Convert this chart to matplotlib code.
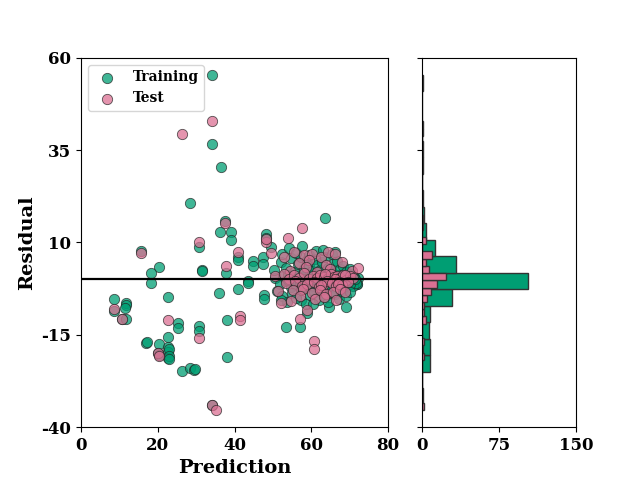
import numpy as np
import matplotlib
matplotlib.use("Agg")
import matplotlib.pyplot as plt

#######################################
# Data
#######################################
# training points away from the main cluster
train_pred_out = [34.1, 34.1, 36.4, 28.5, 37.4, 63.7, 36.3, 39.2, 48.1, 48.1,
                  39.2, 49.4, 30.8, 15.6,
                  41.0, 41.0, 44.7, 44.7, 47.4, 47.4, 20.2, 31.4, 31.4,
                  18.2, 37.7, 18.2, 43.4, 43.4, 40.8,
                  36.0, 22.7, 8.6, 11.7, 11.7, 57.4, 47.7, 47.7,
                  11.5, 8.6, 10.6, 11.6, 38.1, 59.0, 64.5, 69.0,
                  25.3, 25.3, 30.8, 30.8, 53.5, 57.1, 22.6,
                  17.0, 17.1, 20.2, 22.7, 22.7, 22.9, 20.0, 20.3,
                  22.7, 38.1, 26.2, 28.5, 29.5, 29.7, 22.8, 23.0,
                  34.1]
train_res_out = [55.4, 36.6, 30.5, 20.7, 15.8, 16.6, 12.8, 12.9, 12.3, 11.3,
                 10.6, 8.7, 8.7, 7.8,
                 6.2, 5.2, 5.1, 3.5, 6.0, 4.1, 3.4, 2.5, 2.4,
                 1.6, 1.6, -1.1, -0.3, -1.0, -2.6,
                 -3.7, -4.9, -5.4, -6.5, -7.0, -5.6, -4.2, -5.3,
                 -7.8, -8.6, -10.8, -10.8, -11.1, -9.2, -7.6, -7.4,
                 -11.7, -13.3, -12.5, -13.9, -12.9, -12.9, -15.7,
                 -17.1, -16.9, -17.6, -18.2, -19.6, -18.8, -20.0, -20.4,
                 -21.2, -20.9, -24.8, -24.1, -24.5, -24.3, -20.8, -21.6,
                 -34.0]

# training points in the dense cluster
train_pred_in = [50.5, 51.8, 52.6, 53.3, 54.0, 54.7, 55.2, 55.9, 56.4, 57.0,
                 57.5, 58.1, 58.6, 59.0, 59.4, 59.9, 60.3, 60.7, 61.0, 61.4,
                 61.8, 62.1, 62.5, 62.8, 63.1, 63.4, 63.7, 64.0, 64.3, 64.6,
                 64.9, 65.2, 65.5, 65.8, 66.1, 66.4, 66.7, 67.0, 67.3, 67.6,
                 67.9, 68.2, 68.5, 68.8, 69.1, 69.4, 69.7, 70.0, 70.3, 70.6,
                 71.0, 71.4, 71.8, 72.2, 58.3, 60.1, 61.6, 62.9, 63.9, 64.8,
                 65.7, 66.6, 67.4, 68.1, 68.9, 69.6, 70.4, 71.2, 72.0, 59.6,
                 62.3, 63.5, 65.0, 66.0, 67.2, 68.4, 69.2, 70.8, 53.9, 56.8,
                 61.2, 62.6, 64.2, 65.4, 66.9, 68.6, 69.9, 71.6, 57.8, 60.5,
                 63.0, 64.5, 66.3, 67.8, 69.0, 70.2, 71.5,
                 50.2, 52.0, 53.5, 54.8, 55.6, 56.5, 57.2, 58.0, 58.8, 59.5,
                 60.2, 60.9, 61.5, 62.2, 62.9, 63.6, 64.3, 65.1, 65.9, 66.7,
                 67.5, 68.3, 69.1, 70.0,
                 52.5, 54.3, 56.0, 57.7, 59.3, 61.2, 65.5, 66.3, 63.0,
                 51.0, 52.4, 53.8, 55.0, 56.1, 57.4, 58.5, 59.7, 60.8, 61.9,
                 62.7, 63.5, 64.4, 65.3, 66.2, 67.1, 68.0, 69.0, 70.1, 52.2,
                 60.4]
train_res_in = [0.4, -1.2, 0.9, -0.5, 1.3, -2.0, 0.2, -1.6, 1.0, -0.8,
                0.6, -2.3, 1.5, -0.3, -1.1, 0.8, -1.9, 0.1, 1.2, -0.6,
                -2.4, 0.5, -1.4, 1.6, -0.2, 0.9, -1.7, 0.3, -0.9, 1.1,
                -2.1, 0.7, -0.4, 1.4, -1.3, 0.0, -2.5, 0.6, -0.7, 1.2,
                -1.5, 0.2, -0.1, 1.0, -1.8, 0.4, -0.6, 1.5, -1.0, 0.1,
                0.8, -0.4, -1.3, 0.3, -2.2, 1.3, -0.9, 0.5, -1.6, 0.9,
                -0.2, 1.1, -2.0, 0.7, -1.1, 0.2, -0.5, 0.6, -1.2, 1.4,
                -0.8, -2.6, 0.4, -1.4, 1.0, -0.3, 0.8, -1.7, -0.1, 0.3,
                1.6, -1.0, -0.6, 0.5, -2.3, 1.2, -0.4, -0.9, -1.5, 0.0,
                0.7, -1.9, 0.2, -0.7, 1.3, -1.2, 0.1,
                2.5, 4.6, 3.1, 5.8, 2.0, 4.1, 6.0, 2.8, 5.2, 3.5,
                2.2, 5.5, 3.9, 2.6, 4.8, 6.1, 3.0, 2.3, 4.4, 5.0,
                2.7, 3.6, 2.1, 2.9,
                6.8, 8.5, 7.2, 9.0, 6.6, 7.8, 6.9, 7.4, 8.0,
                -3.2, -4.5, -6.0, -3.8, -5.1, -2.9, -6.6, -4.2, -3.4, -5.6,
                -3.0, -4.8, -6.2, -3.6, -4.0, -5.3, -3.1, -4.6, -3.3, -5.5,
                -6.8]

# test points away from the cluster
test_pred_out = [57.6, 37.4, 54.0, 48.1, 30.8, 48.3, 15.6, 40.8, 49.4, 37.7,
                 51.2, 8.6, 52.1, 59.0, 41.3, 10.8, 41.3, 22.7, 57.1, 30.8,
                 60.6, 60.6, 20.0, 20.2, 34.1, 35.2, 26.2, 34.1]
test_res_out = [13.9, 15.4, 11.2, 10.0, 10.0, 10.9, 7.2, 7.4, 7.2, 3.6,
                -3.2, -8.0, -6.5, -8.3, -9.9, -10.6, -11.0, -11.1, -10.8, -16.0,
                -16.7, -18.9, -20.0, -20.8, -34.0, -35.5, 39.3, 42.8]

# test points in the cluster
test_pred_in = [53.0, 55.5, 58.0, 60.2, 62.5, 64.4, 66.1,
                56.8, 59.5, 63.8, 67.9,
                54.5, 58.7, 61.4, 65.0, 70.5, 72.3,
                50.5, 52.8, 54.2, 55.6, 56.9, 58.2, 59.4, 60.5, 61.5, 62.4,
                63.3, 64.2, 65.1, 65.9, 66.7, 67.5, 68.3, 69.1, 70.0, 71.0,
                63.7, 66.2, 68.8,
                53.5, 55.8, 57.5, 59.0, 60.6, 61.9, 63.0, 64.0, 65.3, 66.4,
                67.3, 68.0, 69.5, 62.6, 66.9,
                55.2, 57.8, 60.1, 62.2, 63.9, 65.7, 67.6, 68.9,
                57.0, 61.0, 63.2, 66.5, 54.6]
test_res_in = [6.0, 7.3, 6.5, 7.0, 6.2, 7.5, 6.8,
               4.5, 5.2, 3.9, 4.8,
               2.4, 3.3, 2.0, 2.8, 2.3, 3.0,
               0.8, 1.5, 0.2, 1.2, 0.5, 1.6, 0.0, 1.0, 0.4, 1.3,
               0.7, 0.1, 1.4, 0.6, 0.9, 0.3, 1.1, -0.1, 0.8, 0.4,
               1.5, 0.2, 1.2,
               -1.0, -0.5, -1.8, -1.2, -0.7, -2.0, -1.5, -0.4, -1.1, -1.9,
               -0.8, -1.4, -0.6, -1.6, -1.3,
               -3.0, -2.5, -3.6, -2.8, -3.9, -3.3, -2.6, -3.5,
               -4.5, -5.2, -4.9, -5.6, -5.8]

train_pred = np.array(train_pred_out + train_pred_in)
train_res = np.array(train_res_out + train_res_in)
test_pred = np.array(test_pred_out + test_pred_in)
test_res = np.array(test_res_out + test_res_in)

green = '#009E73'
pink = '#DB7093'

#######################################
# Plot
#######################################
plt.rcParams['font.family'] = 'DejaVu Serif'
plt.rcParams['font.weight'] = 'bold'
plt.rcParams['axes.labelweight'] = 'bold'
plt.rcParams['axes.unicode_minus'] = False

fig = plt.figure(figsize=(6.4, 4.8), dpi=100)
ax = fig.add_axes([0.1266, 0.1104, 0.4797, 0.7688])
axh = fig.add_axes([0.6594, 0.1104, 0.2406, 0.7688])

ax.scatter(train_pred, train_res, s=55, color=green, alpha=0.75,
           edgecolor='#222222', linewidth=0.6, label='Training', zorder=2)
ax.scatter(test_pred, test_res, s=55, color=pink, alpha=0.75,
           edgecolor='#222222', linewidth=0.6, label='Test', zorder=3)
ax.axhline(0, color='black', linewidth=1.6, zorder=4)

ax.set_xlim(0, 80)
ax.set_ylim(-40, 60)
ax.set_xticks([0, 20, 40, 60, 80])
ax.set_yticks([-40, -15, 10, 35, 60])
ax.set_xlabel('Prediction', fontsize=14)
ax.set_ylabel('Residual', fontsize=14)
ax.tick_params(labelsize=12)
ax.legend(loc='upper left', fontsize=10)

axh.hist(train_res, bins=20, orientation='horizontal', color=green,
         edgecolor='#333333', linewidth=1)
axh.hist(test_res, bins=40, orientation='horizontal', color=pink,
         edgecolor='#333333', linewidth=1)
axh.set_xlim(0, 150)
axh.set_ylim(-40, 60)
axh.set_xticks([0, 75, 150])
axh.set_yticks([-40, -15, 10, 35, 60])
axh.set_yticklabels([])
axh.tick_params(labelsize=12)

fig.savefig('out.png', dpi=100)
